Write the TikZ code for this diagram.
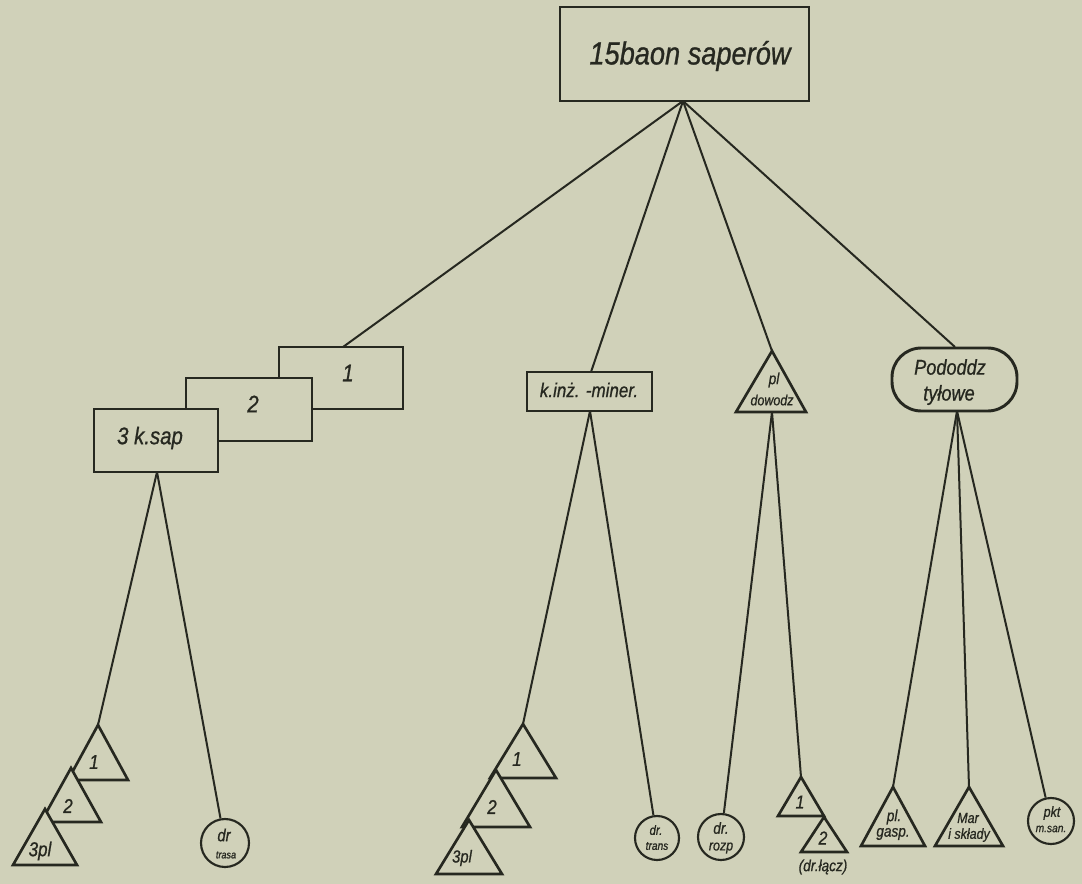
\documentclass[tikz,border=0pt]{standalone}
\usepackage{fontspec}
\setmainfont{Liberation Sans}[FakeStretch=0.85, FakeBold=0.8]
\usetikzlibrary{fit}
\definecolor{paper}{RGB}{208,209,185}
\definecolor{ink}{RGB}{38,40,32}
\tikzset{
  box/.style={draw=ink, line width=2.2pt, inner sep=0pt, fill=paper},
  conn/.style={draw=ink, line width=1.5pt},
  tri/.style={draw=ink, line width=2pt, fill=paper, line join=miter},
  circ/.style={draw=ink, line width=1.6pt, circle, fill=paper, inner sep=0pt},
  lab/.style={text=ink, font=\itshape, inner sep=0pt, align=center}
}
\newcommand{\fs}[1]{\fontsize{#1}{#1}\selectfont}
\begin{document}
\begin{tikzpicture}[x=0.75pt,y=-0.75pt]
\fill[paper] (0,0) rectangle (1082,884);
\useasboundingbox (0,0) rectangle (1082,884);

% top box
\node[box, fit={(560,7) (809,101)}] (top) {};
\node[lab, font=\itshape\fs{24}] (toptxt) at (690,56) {15baon saperów};
\coordinate (topb) at (683,101);

% company boxes
\node[box, fit={(279,347) (403,409)}] (k1) {};
\node[box, fit={(186,378) (312,441)}] (k2) {};
\node[box, fit={(94,409) (218,472)}] (k3) {};
\node[lab, font=\itshape\fs{18}] (k1t) at (348,373) {1};
\node[lab, font=\itshape\fs{18}] (k2t) at (253,404) {2};
\node[lab, font=\itshape\fs{18}] (k3t) at (150,438) {3 k.sap};
\coordinate (k1top) at (343,347);
\coordinate (k3b) at (157,472);

% k.inz-miner
\node[box, fit={(527,372) (652,411)}] (kim) {};
\node[lab, font=\itshape\fs{15}] (kimt) at (589,390) {k.inż. -miner.};
\coordinate (kimtop) at (591,372);
\coordinate (kimb) at (590,411);

% pl dowodz triangle
\coordinate (pda) at (772,351);
\draw[tri] (pda) -- (806,412) -- (736,412) -- cycle;
\node[lab, font=\itshape\fs{12}] (pdt1) at (774,380) {pl};
\node[lab, font=\itshape\fs{11}] (pdt2) at (772,400) {dowodz};
\coordinate (pdb) at (772,412);

% Pododdz tylowe
\node[box, rounded corners=22pt, fit={(892,348) (1017,411)}] (pod) {};
\node[lab, font=\itshape\fs{16}] (podt1) at (950,367) {Pododdz};
\node[lab, font=\itshape\fs{16}] (podt2) at (949,395) {tyłowe};
\coordinate (podtop) at (955,347);
\coordinate (podb) at (957,411);

% top connectors
\draw[conn] (topb) -- (k1top);
\draw[conn] (topb) -- (kimtop);
\draw[conn] (topb) -- (pda);
\draw[conn] (topb) -- (podtop);

% --- left group (3 k.sap) ---
\coordinate (la1) at (98,725);
\coordinate (la2) at (71,768);
\coordinate (la3) at (45,809);
\draw[conn] (k3b) -- (la1);
\draw[tri] (la1) -- ++(30,55) -- ++(-60,0) -- cycle;
\draw[tri] (la2) -- ++(30,54) -- ++(-60,0) -- cycle;
\draw[tri] (la3) -- ++(32,56) -- ++(-64,0) -- cycle;
\node[lab, font=\itshape\fs{15}] (l1t) at (94,762) {1};
\node[lab, font=\itshape\fs{15}] (l2t) at (68,806) {2};
\node[lab, font=\itshape\fs{15}] (l3t) at (40,851) {3pl};
\node[circ, minimum size=48*0.75pt] (trasa) at (225,843) {};
\node[lab, font=\itshape\fs{13}] (trasat1) at (224,835) {dr};
\node[lab, font=\itshape\fs{8}] (trasat2) at (226,855) {trasa};
\draw[conn] (k3b) -- (trasa);

% --- middle group (k.inz-miner) ---
\coordinate (ma1) at (523,724);
\coordinate (ma2) at (496,770);
\coordinate (ma3) at (469,820);
\draw[conn] (kimb) -- (ma1);
\draw[tri] (ma1) -- ++(33,54) -- ++(-66,0) -- cycle;
\draw[tri] (ma2) -- ++(34,57) -- ++(-68,0) -- cycle;
\draw[tri] (ma3) -- ++(33,54) -- ++(-66,0) -- cycle;
\node[lab, font=\itshape\fs{15}] (m1t) at (517,759) {1};
\node[lab, font=\itshape\fs{15}] (m2t) at (492,807) {2};
\node[lab, font=\itshape\fs{13}] (m3t) at (462,858) {3pl};
\node[circ, minimum size=44*0.75pt] (trans) at (657,838) {};
\node[lab, font=\itshape\fs{10}] (transt1) at (656,830) {dr.};
\node[lab, font=\itshape\fs{9}] (transt2) at (657,846) {trans};
\draw[conn] (kimb) -- (trans);

% --- pl dowodz group ---
\node[circ, minimum size=46*0.75pt] (rozp) at (721,837) {};
\node[lab, font=\itshape\fs{12}] (rozpt1) at (721,828) {dr.};
\node[lab, font=\itshape\fs{11}] (rozpt2) at (721,848) {rozp};
\draw[conn] (pdb) -- (rozp);
\coordinate (pa1) at (801,777);
\coordinate (pa2) at (824,817);
\draw[conn] (pdb) -- (pa1);
\draw[tri] (pa1) -- ++(23,39) -- ++(-46,0) -- cycle;
\draw[tri] (pa2) -- ++(23,35) -- ++(-46,0) -- cycle;
\node[lab, font=\itshape\fs{14}] (p1t) at (800,802) {1};
\node[lab, font=\itshape\fs{14}] (p2t) at (823,838) {2};
\node[lab, font=\itshape\fs{12}] (p3t) at (823,867) {(dr.łącz)};

% --- Pododdz group ---
\coordinate (ga) at (893,787);
\coordinate (sa) at (969,787);
\draw[conn] (podb) -- (ga);
\draw[conn] (podb) -- (sa);
\draw[tri] (ga) -- ++(32,59) -- ++(-64,0) -- cycle;
\draw[tri] (sa) -- ++(34,59) -- ++(-68,0) -- cycle;
\node[lab, font=\itshape\fs{12}] (gt1) at (894,817) {pl.};
\node[lab, font=\itshape\fs{12}] (gt2) at (893,834) {gasp.};
\node[lab, font=\itshape\fs{11}] (st1) at (968,818) {Mar};
\node[lab, font=\itshape\fs{11}] (st2) at (969,835) {i składy};
\node[circ, minimum size=46*0.75pt] (msan) at (1051,821) {};
\node[lab, font=\itshape\fs{11}] (msant1) at (1052,813) {pkt};
\node[lab, font=\itshape\fs{9}] (msant2) at (1051,829) {m.san.};
\draw[conn] (podb) -- (msan);
\end{tikzpicture}
\end{document}
